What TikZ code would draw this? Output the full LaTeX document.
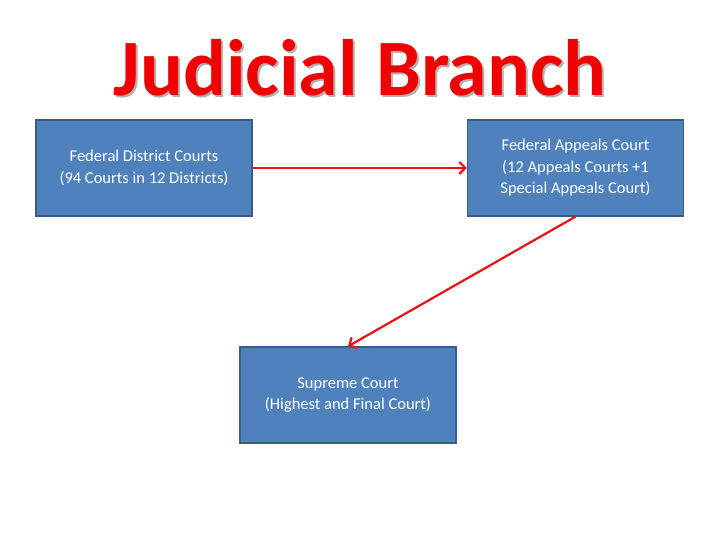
\documentclass[tikz,border=0pt]{standalone}
\usepackage{fontspec}
\setmainfont{Carlito}
\usetikzlibrary{arrows.meta}
\begin{document}
\begin{tikzpicture}[x=1pt,y=1pt,
  box/.style={draw={rgb,255:red,56;green,93;blue,138}, line width=1.3pt, fill={rgb,255:red,79;green,129;blue,189}, minimum width=216pt, minimum height=96pt, text=white, align=center, font=\fontsize{16.5}{21.5}\selectfont, inner sep=0pt},
  conn/.style={draw={rgb,255:red,230;green,20;blue,20}, line width=2.2pt, -{Straight Barb[length=6pt,width=12pt]}}]
\path[use as bounding box] (0,0) rectangle (720,540);
\node[text=gray!60, font=\fontsize{80}{90}\selectfont\bfseries] at (362,470) {Judicial Branch};
\node (t) [text={rgb,255:red,240;green,0;blue,0}, font=\fontsize{80}{90}\selectfont\bfseries] at (360,472) {Judicial Branch};
\node[box] (a) at (144,372) {Federal District Courts\\(94 Courts in 12 Districts)};
\node[box] (b) at (575.5,372) {Federal Appeals Court\\(12 Appeals Courts +1\\Special Appeals Court)};
\node[box] (c) at (348,145) {Supreme Court\\(Highest and Final Court)};
\draw[conn] (a.east) -- (b.west);
\draw[conn] (b.south) -- (c.north);
\end{tikzpicture}
\end{document}
